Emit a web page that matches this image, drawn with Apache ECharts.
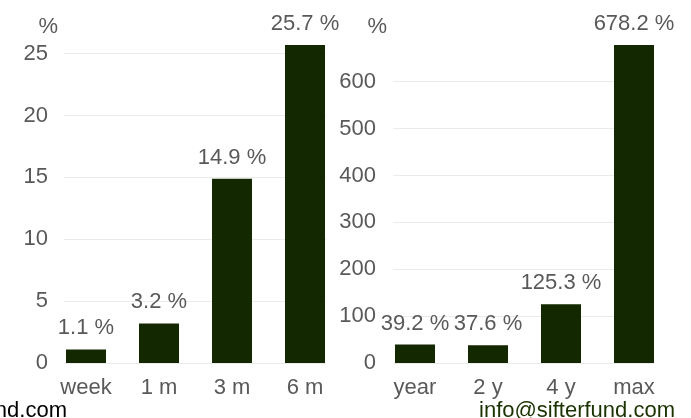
<!DOCTYPE html>
<html>
<head>
<meta charset="utf-8">
<script src="https://cdn.jsdelivr.net/npm/echarts@6/dist/echarts.min.js"></script>
<style>html,body{margin:0;padding:0;background:#fff}#c{width:691px;height:418px}</style>
</head>
<body>
<div id="c"></div>
<script>
const shortCategories = ['week', '1 m', '3 m', '6 m'];
const shortValues = [1.1, 3.2, 14.9, 25.7];
const longCategories = ['year', '2 y', '4 y', 'max'];
const longValues = [39.2, 37.6, 125.3, 678.2];
const shortInterval = 5;
const longInterval = 100;

const FONT = '"Liberation Sans", Arial, sans-serif';
const LABEL = '#595959';
const BAR = '#142800';
const FS = 22;
const TOP = 45, BOTTOM = 55;

const chart = echarts.init(document.getElementById('c'));

function barLabel() {
  return {
    show: true, position: 'top', distance: 10,
    color: LABEL, fontSize: FS, fontFamily: FONT,
    formatter: p => p.value.toFixed(1) + ' %'
  };
}

chart.setOption({
  animation: false,
  textStyle: { fontFamily: FONT },
  grid: [
    { left: 49.5, width: 292, top: TOP, bottom: BOTTOM },
    { left: 64, width: 262, top: TOP, bottom: BOTTOM },
    { left: 378.5, width: 292, top: TOP, bottom: BOTTOM },
    { left: 393, width: 261, top: TOP, bottom: BOTTOM }
  ],
  xAxis: [
    { gridIndex: 0, type: 'category', data: shortCategories,
      axisLine: { show: false }, axisTick: { show: false },
      axisLabel: { color: LABEL, fontSize: FS, fontFamily: FONT, margin: 14 } },
    { gridIndex: 1, type: 'value', show: false },
    { gridIndex: 2, type: 'category', data: longCategories,
      axisLine: { show: false }, axisTick: { show: false },
      axisLabel: { color: LABEL, fontSize: FS, fontFamily: FONT, margin: 14 } },
    { gridIndex: 3, type: 'value', show: false }
  ],
  yAxis: [
    { gridIndex: 0, type: 'value', min: 0, max: 'dataMax', interval: shortInterval, show: false, splitLine: { show: false } },
    { gridIndex: 1, type: 'value', min: 0, max: Math.max(...shortValues), interval: shortInterval,
      name: '%', nameLocation: 'end', nameGap: 7,
      nameTextStyle: { color: LABEL, fontSize: FS, fontFamily: FONT, align: 'right', padding: [0, 6, 0, 0] },
      axisLine: { show: false }, axisTick: { show: false },
      axisLabel: { color: LABEL, fontSize: FS, fontFamily: FONT, margin: 16, showMaxLabel: false },
      splitLine: { show: true, showMaxLine: false, lineStyle: { color: '#ebebeb', width: 1 } } },
    { gridIndex: 2, type: 'value', min: 0, max: 'dataMax', interval: longInterval, show: false, splitLine: { show: false } },
    { gridIndex: 3, type: 'value', min: 0, max: Math.max(...longValues), interval: longInterval,
      name: '%', nameLocation: 'end', nameGap: 7,
      nameTextStyle: { color: LABEL, fontSize: FS, fontFamily: FONT, align: 'right', padding: [0, 6, 0, 0] },
      axisLine: { show: false }, axisTick: { show: false },
      axisLabel: { color: LABEL, fontSize: FS, fontFamily: FONT, margin: 17, showMaxLabel: false },
      splitLine: { show: true, showMaxLine: false, lineStyle: { color: '#ebebeb', width: 1 } } }
  ],
  series: [
    { type: 'bar', xAxisIndex: 0, yAxisIndex: 0, data: shortValues, barWidth: 40,
      itemStyle: { color: BAR }, label: barLabel(), z: 3 },
    { type: 'bar', xAxisIndex: 2, yAxisIndex: 2, data: longValues, barWidth: 40,
      itemStyle: { color: BAR }, label: barLabel(), z: 3 }
  ],
  graphic: [
    { type: 'text', right: 624, bottom: -4,
      style: { text: 'www.sifterfund.com', fill: '#000000', fontSize: FS, fontFamily: FONT } },
    { type: 'text', right: 16, bottom: -4,
      style: { text: 'info@sifterfund.com', fill: '#1a3300', fontSize: FS, fontFamily: FONT } }
  ]
});
</script>
</body>
</html>
